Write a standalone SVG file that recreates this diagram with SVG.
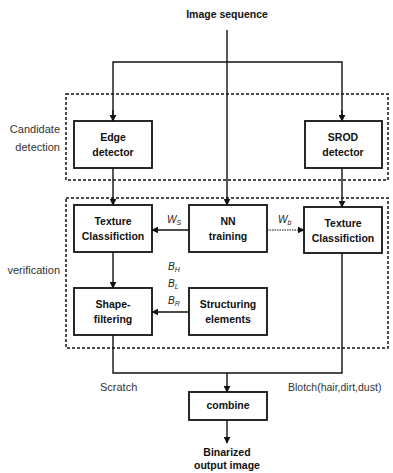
<svg xmlns="http://www.w3.org/2000/svg" width="393" height="473" viewBox="0 0 393 473">
<defs>
<marker id="arr" viewBox="0 0 10 10" refX="9" refY="5" markerWidth="7" markerHeight="7" orient="auto" markerUnits="userSpaceOnUse">
<path d="M0,0 L10,5 L0,10 z" fill="#111"/>
</marker>
<style>
.box{fill:#fff;stroke:#111;stroke-width:1.8}
.grp{fill:none;stroke:#111;stroke-width:1.5;stroke-dasharray:3,2}
.ln{fill:none;stroke:#111;stroke-width:1.4}
.dot{fill:none;stroke:#111;stroke-width:1.2;stroke-dasharray:1.5,1}
.bt{font-family:"Liberation Sans",Arial,sans-serif;font-weight:bold;font-size:10.5px;fill:#111;text-anchor:middle}
.lb{font-family:"Liberation Sans",Arial,sans-serif;font-size:11px;fill:#333}
.it{font-family:"Liberation Sans",Arial,sans-serif;font-style:italic;font-size:10px;fill:#222}
.sub{font-size:7px}
</style>
</defs>
<rect width="393" height="473" fill="#fff"/>
<g id="groups">
<rect class="grp" x="66" y="94" width="322" height="86"/>
<rect class="grp" x="66" y="198" width="322" height="150"/>
<text class="lb" x="60" y="133" text-anchor="end">Candidate</text>
<text class="lb" x="60" y="151" text-anchor="end">detection</text>
<text class="lb" x="60" y="274" text-anchor="end">verification</text>
</g>
<g id="connectors">
<path class="ln" d="M227,30 V205" marker-end="url(#arr)"/>
<path class="ln" d="M113,121 V62 H342 V121" />
<path class="ln" d="M113,110 V121" marker-end="url(#arr)"/>
<path class="ln" d="M342,110 V121" marker-end="url(#arr)"/>
<path class="ln" d="M113,168 V205" marker-end="url(#arr)"/>
<path class="ln" d="M342,168 V207" marker-end="url(#arr)"/>
<path class="ln" d="M189,230 H152" marker-end="url(#arr)"/>
<path class="dot" d="M267,230 H304" marker-end="url(#arr)"/>
<path class="ln" d="M113,252 V288" marker-end="url(#arr)"/>
<path class="ln" d="M189,312 H152" marker-end="url(#arr)"/>
<path class="ln" d="M113,335 V373 H342 V253"/>
<path class="ln" d="M227,373 V392" marker-end="url(#arr)"/>
<path class="ln" d="M227,420 V443" marker-end="url(#arr)"/>
<text class="it" x="167" y="223">W<tspan class="sub" dy="2">S</tspan></text>
<text class="it" x="278" y="223">W<tspan class="sub" dy="2">b</tspan></text>
<text class="it" x="168" y="270">B<tspan class="sub" dy="2">H</tspan></text>
<text class="it" x="168" y="287">B<tspan class="sub" dy="2">L</tspan></text>
<text class="it" x="168" y="304">B<tspan class="sub" dy="2">R</tspan></text>
<text class="lb" x="100" y="391">Scratch</text>
<text class="lb" x="288" y="391" style="font-size:10.5px">Blotch(hair,dirt,dust)</text>
</g>
<g id="input"><text class="bt" x="227" y="18">Image sequence</text></g>
<g id="edge"><rect class="box" x="74" y="121" width="78" height="47"/><text class="bt" x="113" y="141">Edge</text><text class="bt" x="113" y="156">detector</text></g>
<g id="srod"><rect class="box" x="305" y="121" width="77" height="47"/><text class="bt" x="343" y="141">SROD</text><text class="bt" x="343" y="156">detector</text></g>
<g id="tex1"><rect class="box" x="74" y="205" width="78" height="47"/><text class="bt" x="113" y="225">Texture</text><text class="bt" x="113" y="240">Classifiction</text></g>
<g id="nn"><rect class="box" x="189" y="205" width="78" height="47"/><text class="bt" x="228" y="225">NN</text><text class="bt" x="228" y="240">training</text></g>
<g id="tex2"><rect class="box" x="304" y="207" width="78" height="46"/><text class="bt" x="343" y="227">Texture</text><text class="bt" x="343" y="242">Classifiction</text></g>
<g id="shape"><rect class="box" x="74" y="288" width="78" height="47"/><text class="bt" x="113" y="308">Shape-</text><text class="bt" x="113" y="323">filtering</text></g>
<g id="struct"><rect class="box" x="189" y="288" width="78" height="47"/><text class="bt" x="228" y="308">Structuring</text><text class="bt" x="228" y="323">elements</text></g>
<g id="combine"><rect class="box" x="189" y="392" width="78" height="28"/><text class="bt" x="228" y="409">combine</text></g>
<g id="output"><text class="bt" x="227" y="456">Binarized</text><text class="bt" x="227" y="469">output image</text></g>
</svg>
